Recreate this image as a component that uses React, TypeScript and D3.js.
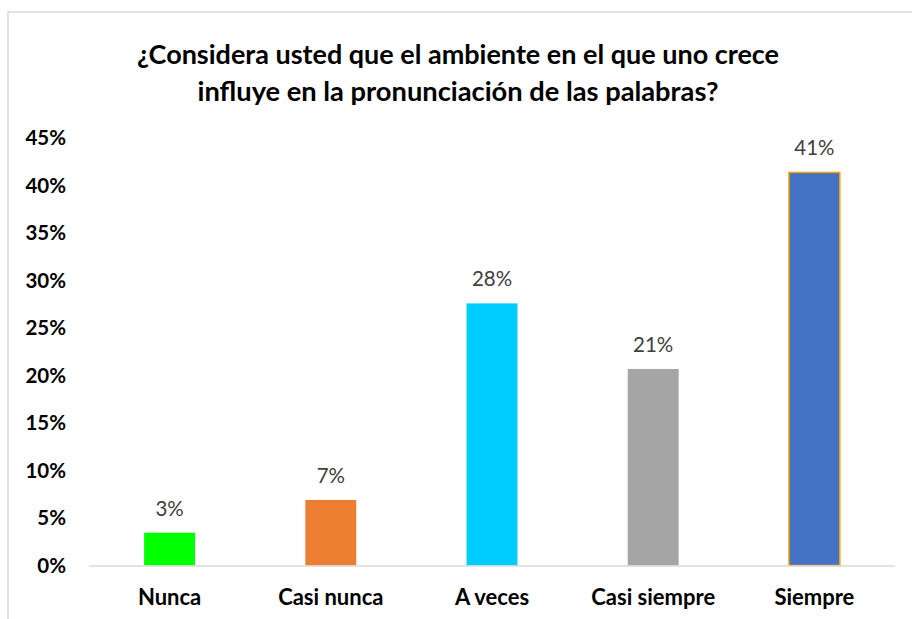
import React from "react";
import * as d3 from "d3";

const categories = ["Nunca", "Casi nunca", "A veces", "Casi siempre", "Siempre"];
const values = [0.0345, 0.069, 0.2759, 0.2069, 0.4138];
const valueLabels = ["3%", "7%", "28%", "21%", "41%"];
const barColors = ["#00FF00", "#ED7D31", "#00CCFF", "#A5A5A5", "#4472C4"];
const barStrokes = ["none", "none", "none", "none", "#FFA500"];
const yTicks = [0, 0.05, 0.1, 0.15, 0.2, 0.25, 0.3, 0.35, 0.4, 0.45];
const titleLines = [
  "¿Considera usted que el ambiente en el que uno crece",
  "influye en la pronunciación de las palabras?",
];
const titleWidths = [642, 521];

const W = 912;
const H = 619;
const FONT = "Lato, 'Open Sans', sans-serif";

export default function App() {
  const plotLeft = 89;
  const plotRight = 895;
  const y0 = 565.5;
  const yTop = 138;
  const x = d3.scaleBand<string>().domain(categories).range([plotLeft, plotRight]).paddingInner(0.684).paddingOuter(0.342);
  const y = d3.scaleLinear().domain([0, 0.45]).range([y0, yTop]);
  const fmt = d3.format(".0%");

  return (
    <svg width={W} height={H} style={{ position: "absolute", left: 0, top: 0 }} fontFamily={FONT}>
      <rect x={0} y={0} width={W} height={H} fill="#fff" />
      <rect x={8} y={12} width={W + 10} height={H + 10} fill="#fff" stroke="#D9D9D9" strokeWidth={1.5} />
      {titleLines.map((t, i) => (
        <text
          key={i}
          x={458}
          y={64 + i * 37}
          textAnchor="middle"
          fontSize={27}
          fontWeight="bold"
          fill="#000"
          textLength={titleWidths[i]}
          lengthAdjust="spacingAndGlyphs"
        >
          {t}
        </text>
      ))}
      {yTicks.map((t) => (
        <text key={t} x={66} y={y(t) + 7} textAnchor="end" fontSize={20.5} fontWeight="bold" fill="#000">
          {fmt(t)}
        </text>
      ))}
      {categories.map((c, i) => (
        <g key={c}>
          <rect
            x={x(c)!}
            y={y(values[i])}
            width={x.bandwidth()}
            height={y0 - y(values[i])}
            fill={barColors[i]}
            stroke={barStrokes[i]}
            strokeWidth={barStrokes[i] === "none" ? 0 : 1.5}
          />
          <text x={x(c)! + x.bandwidth() / 2} y={y(values[i]) - 17} textAnchor="middle" fontSize={20.5} fill="#404040">
            {valueLabels[i]}
          </text>
          <text x={x(c)! + x.bandwidth() / 2} y={605} textAnchor="middle" fontSize={22} fontWeight="bold" fill="#000">
            {c}
          </text>
        </g>
      ))}
      <line x1={plotLeft} x2={plotRight} y1={y0 + 0.5} y2={y0 + 0.5} stroke="#D9D9D9" strokeWidth={1.5} />
    </svg>
  );
}
